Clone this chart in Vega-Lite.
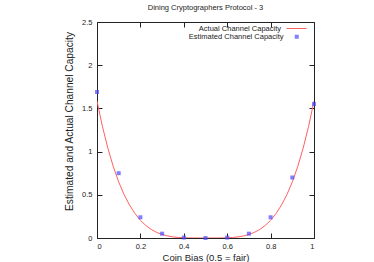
{
  "$schema": "https://vega.github.io/schema/vega-lite/v6.json",
  "width": 217,
  "height": 216,
  "autosize": {"type": "none"},
  "padding": {"left": 97, "top": 22, "right": 60, "bottom": 24},
  "background": "white",
  "title": {"text": "Dining Cryptographers Protocol - 3", "fontSize": 7.5, "font": "Liberation Sans", "fontWeight": "normal", "color": "#222", "offset": 7},
  "config": {
    "view": {"stroke": "#222", "strokeWidth": 1},
    "axis": {"grid": false, "domain": false, "tickColor": "#222", "tickWidth": 1, "labelFont": "Liberation Sans", "labelFontSize": 7.5, "labelColor": "#222", "titleFont": "Liberation Sans", "titleFontSize": 9.5, "titleFontWeight": "normal", "titleColor": "#222", "format": "~g"},
    "legend": {"labelFont": "Liberation Sans", "labelFontSize": 7.5, "labelColor": "#222"}
  },
  "datasets": {
    "actual": [
      {"p": 0, "c": 1.585}, {"p": 0.025, "c": 1.291}, {"p": 0.05, "c": 1.04}, {"p": 0.075, "c": 0.827},
      {"p": 0.1, "c": 0.649}, {"p": 0.125, "c": 0.501}, {"p": 0.15, "c": 0.381}, {"p": 0.175, "c": 0.283},
      {"p": 0.2, "c": 0.205}, {"p": 0.225, "c": 0.145}, {"p": 0.25, "c": 0.099}, {"p": 0.275, "c": 0.065},
      {"p": 0.3, "c": 0.041}, {"p": 0.325, "c": 0.024}, {"p": 0.35, "c": 0.0128}, {"p": 0.375, "c": 0.0062},
      {"p": 0.4, "c": 0.0025}, {"p": 0.425, "c": 0.0008}, {"p": 0.45, "c": 0.0002}, {"p": 0.475, "c": 0.0},
      {"p": 0.5, "c": 0.0},
      {"p": 0.525, "c": 0.0}, {"p": 0.55, "c": 0.0002}, {"p": 0.575, "c": 0.0008}, {"p": 0.6, "c": 0.0025},
      {"p": 0.625, "c": 0.0062}, {"p": 0.65, "c": 0.0128}, {"p": 0.675, "c": 0.024}, {"p": 0.7, "c": 0.041},
      {"p": 0.725, "c": 0.065}, {"p": 0.75, "c": 0.099}, {"p": 0.775, "c": 0.145}, {"p": 0.8, "c": 0.205},
      {"p": 0.825, "c": 0.283}, {"p": 0.85, "c": 0.381}, {"p": 0.875, "c": 0.501}, {"p": 0.9, "c": 0.649},
      {"p": 0.925, "c": 0.827}, {"p": 0.95, "c": 1.04}, {"p": 0.975, "c": 1.291}, {"p": 1, "c": 1.585}
    ],
    "estimated": [
      {"p": 0, "c": 1.69}, {"p": 0.1, "c": 0.75}, {"p": 0.2, "c": 0.24}, {"p": 0.3, "c": 0.05},
      {"p": 0.4, "c": 0.005}, {"p": 0.5, "c": 0.0}, {"p": 0.6, "c": 0.005}, {"p": 0.7, "c": 0.05},
      {"p": 0.8, "c": 0.24}, {"p": 0.9, "c": 0.70}, {"p": 1, "c": 1.55}
    ]
  },
  "layer": [
    {
      "data": {"name": "actual"},
      "mark": {"type": "line", "strokeWidth": 1, "clip": true},
      "encoding": {
        "x": {"field": "p", "type": "quantitative", "scale": {"domain": [0, 1], "nice": false, "zero": false},
              "axis": {"title": "Coin Bias (0.5 = fair)", "values": [0, 0.2, 0.4, 0.6, 0.8, 1], "tickSize": -5, "labelPadding": 9, "titlePadding": 3}},
        "y": {"field": "c", "type": "quantitative", "scale": {"domain": [0, 2.5], "nice": false},
              "axis": {"title": "Estimated and Actual Channel Capacity", "values": [0, 0.5, 1, 1.5, 2, 2.5], "tickSize": -5, "labelPadding": 10, "titleFontSize": 10.2, "titleX": -28, "titleY": 99, "titleAlign": "center", "titleBaseline": "middle", "titleAngle": -90}},
        "stroke": {"datum": "Actual Channel Capacity", "type": "nominal",
                   "scale": {"domain": ["Actual Channel Capacity"], "range": ["#ff6060"]},
                   "legend": {"title": null, "orient": "none", "legendX": 189, "legendY": -4, "labelAlign": "right", "labelOffset": -26, "symbolSize": 400, "symbolStrokeWidth": 1, "symbolType": "stroke", "symbolStrokeColor": "#ff6060"}}
      }
    },
    {
      "data": {"name": "estimated"},
      "mark": {"type": "point", "filled": true, "size": 16, "shape": "square", "clip": false},
      "encoding": {
        "x": {"field": "p", "type": "quantitative", "axis": {"orient": "top", "labels": false, "title": null, "values": [0, 0.2, 0.4, 0.6, 0.8, 1], "tickSize": -5}},
        "y": {"field": "c", "type": "quantitative", "axis": {"orient": "right", "labels": false, "title": null, "values": [0, 0.5, 1, 1.5, 2, 2.5], "tickSize": -5}},
        "color": {"datum": "Estimated Channel Capacity", "type": "nominal",
                  "scale": {"domain": ["Estimated Channel Capacity"], "range": ["#4a4aff"]},
                  "legend": {"title": null, "orient": "none", "legendX": 196, "legendY": 11, "labelAlign": "right", "labelOffset": -17, "symbolSize": 16, "symbolType": "square"}}
      }
    }
  ],
  "resolve": {"axis": {"x": "independent", "y": "independent"}, "scale": {"color": "independent"}}
}
